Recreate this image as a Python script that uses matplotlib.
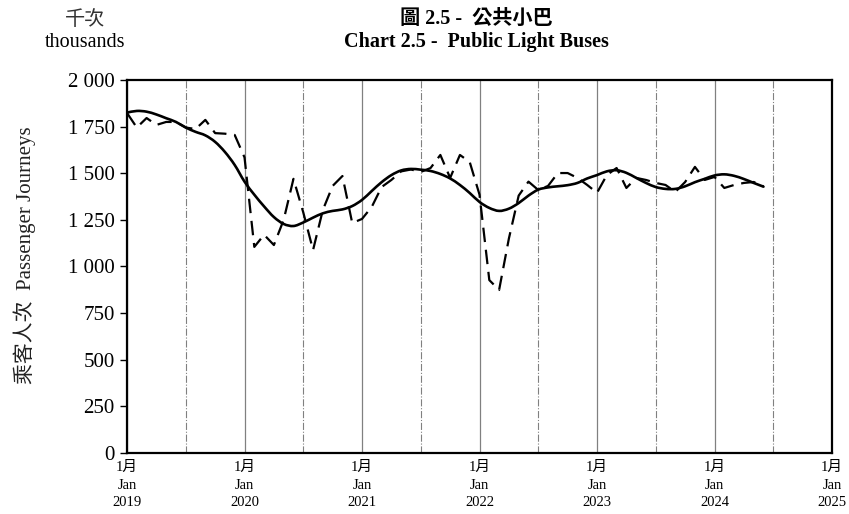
import numpy as np
import matplotlib
matplotlib.use('Agg')
import matplotlib.pyplot as plt
from matplotlib.ticker import FuncFormatter
from matplotlib.path import Path
from matplotlib.patches import PathPatch

# monthly passenger journeys (thousands), Jan 2019 - Jun 2024
monthly = [1823, 1745, 1796, 1759, 1775, 1775, 1745, 1737, 1786, 1715, 1712, 1705,
           1585, 1105, 1170, 1115, 1250, 1470, 1290, 1088, 1303, 1432, 1485, 1233,
           1255, 1320, 1426, 1464, 1510, 1520, 1507, 1528, 1598, 1475, 1598, 1560,
           1385, 927, 874, 1150, 1380, 1455, 1410, 1432, 1501, 1501, 1475, 1437,
           1395, 1490, 1528, 1421, 1475, 1464, 1448, 1437, 1400, 1453, 1534, 1464,
           1480, 1421, 1437, 1448, 1453, 1430]
# trend line
trend = [1825, 1834, 1830, 1815, 1795, 1775, 1745, 1722, 1703, 1668, 1614, 1544,
         1455, 1385, 1322, 1265, 1228, 1217, 1236, 1262, 1285, 1298, 1306, 1324,
         1357, 1405, 1452, 1490, 1515, 1523, 1519, 1512, 1496, 1472, 1437, 1394,
         1346, 1314, 1298, 1310, 1340, 1380, 1412, 1424, 1430, 1436, 1448, 1472,
         1490, 1510, 1516, 1502, 1475, 1448, 1426, 1416, 1416, 1430, 1452, 1470,
         1488, 1494, 1486, 1469, 1448, 1428]
years = ['2019', '2020', '2021', '2022', '2023', '2024', '2025']
yticks = [0, 250, 500, 750, 1000, 1250, 1500, 1750, 2000]

serif = ['Liberation Serif', 'Noto Sans CJK TC']
plt.rcParams['font.family'] = serif

fig = plt.figure(figsize=(8.49, 5.14), dpi=100)
ax = fig.add_axes([0.1496, 0.1187, 0.8304, 0.7257])

months = np.arange(len(monthly))
nmonths = 12 * (len(years) - 1)

# vertical grid: solid at Jan, dash-dot at Jul
for m in range(0, nmonths + 1, 12):
    ax.axvline(m, color='#808080', lw=0.9, zorder=1)
for m in range(6, nmonths, 12):
    ax.axvline(m, color='#808080', lw=0.8, ls='-.', zorder=1)

ax.plot(months, monthly, color='black', lw=1.6, dashes=(6.5, 3.5), zorder=3)

# smoothed trend line (bezier through the points, like a spreadsheet smooth line)
pts = np.column_stack([months, trend]).astype(float)
ext = np.vstack([pts[0], pts, pts[-1]])
verts = [pts[0]]
codes = [Path.MOVETO]
for k in range(1, len(ext) - 2):
    p0, p1, p2, p3 = ext[k - 1], ext[k], ext[k + 1], ext[k + 2]
    verts += [p1 + (p2 - p0) / 6, p2 - (p3 - p1) / 6, p2]
    codes += [Path.CURVE4] * 3
ax.add_patch(PathPatch(Path(verts, codes), fill=False, edgecolor='black',
                       lw=1.9, capstyle='round', zorder=4))

ax.set_xlim(0, nmonths)
ax.set_ylim(0, 2000)
ax.set_yticks(yticks)
ax.yaxis.set_major_formatter(FuncFormatter(lambda v, p: f'{int(v):,}'.replace(',', ' ')))
ax.tick_params(axis='y', direction='out', length=5, width=1, labelsize=15, pad=4)

ax.set_xticks(range(0, nmonths + 1, 12))
ax.set_xticklabels([f'1月\nJan\n{y}' for y in years], fontsize=10.5, linespacing=1.45)
ax.tick_params(axis='x', length=0, pad=6)

for s in ax.spines.values():
    s.set_linewidth(1.6)
    s.set_zorder(5)

fig.text(0.100, 0.961, '千次', ha='center', va='center', fontsize=14.5, color='#333333')
fig.text(0.100, 0.918, 'thousands', ha='center', va='center', fontsize=14.5)
fig.text(0.561, 0.961, '圖 2.5 -  公共小巴', ha='center', va='center', fontsize=14.5,
         fontweight='bold')
fig.text(0.561, 0.918, 'Chart 2.5 -  Public Light Buses', ha='center', va='center',
         fontsize=14.5, fontweight='bold')
fig.text(0.029, 0.504, '乘客人次  Passenger Journeys', ha='center', va='center',
         rotation=90, fontsize=15, color='#222222')

fig.savefig('out.png', dpi=100)
